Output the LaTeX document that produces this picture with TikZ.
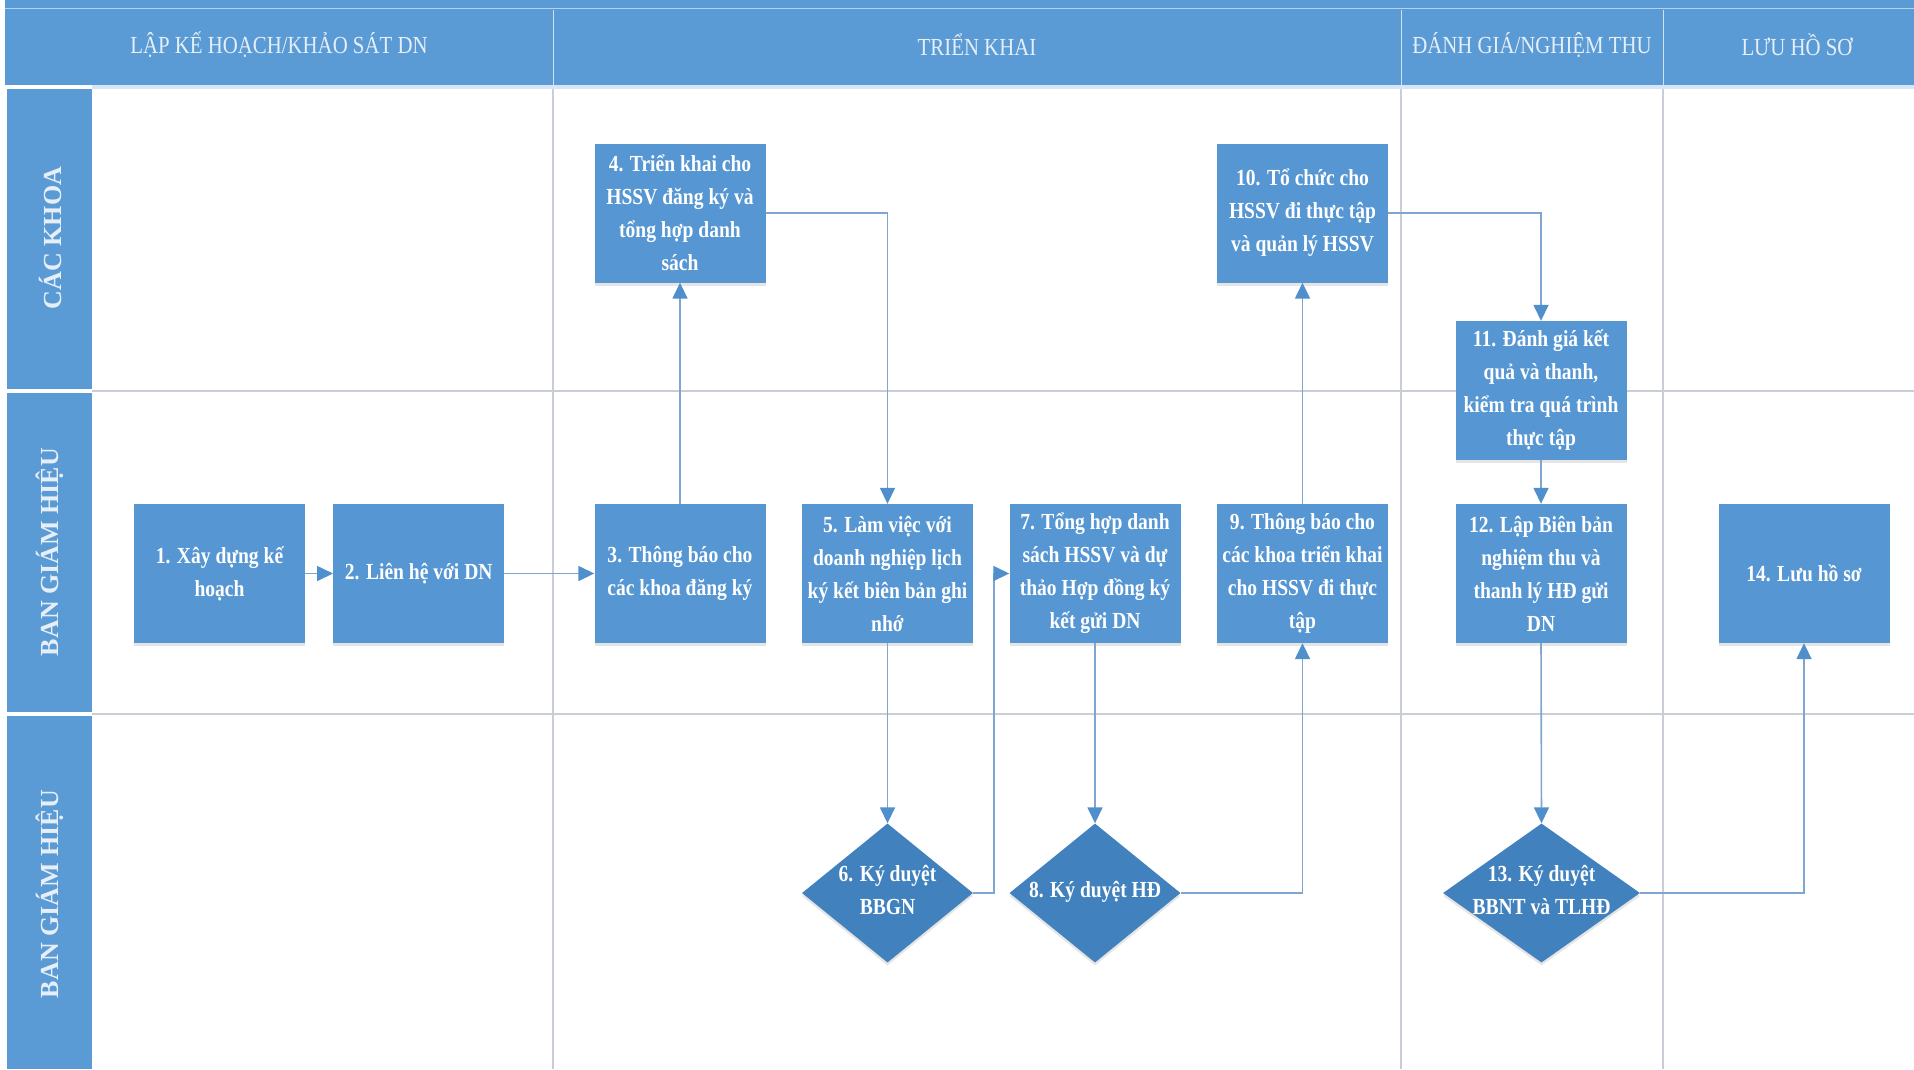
\documentclass[tikz,border=0pt]{standalone}
\usepackage{fontspec}
\setmainfont{Liberation Serif}
\newfontfamily\cnd[FakeStretch=0.85]{Liberation Serif}
\usetikzlibrary{arrows.meta,shapes.geometric,shadows}
\definecolor{hdr}{HTML}{5B9BD5}
\definecolor{boxc}{HTML}{5696D2}
\definecolor{dia}{HTML}{4182BE}
\definecolor{conn}{HTML}{7FA6D0}
\definecolor{tipc}{HTML}{4F8FCB}
\definecolor{gridc}{HTML}{C9CED6}
\definecolor{hdrtxt}{HTML}{E6EEF8}
\begin{document}
\begin{tikzpicture}[x=1pt,y=-1pt,
  stepbox/.style={rectangle, fill=boxc, minimum width=171pt, minimum height=139pt,
    inner sep=2pt, align=center, text=white,
    font=\cnd\bfseries\fontsize{23}{33}\selectfont,
    drop shadow={shadow xshift=0pt, shadow yshift=-3pt, opacity=0.2}},
  decbox/.style={diamond, fill=dia, minimum width=171pt, minimum height=139pt,
    inner sep=0pt, text=white, font=\cnd\bfseries\fontsize{23}{33}\selectfont,
    drop shadow={shadow xshift=0pt, shadow yshift=-3pt, opacity=0.2}},
  headtxt/.style={text=hdrtxt, font=\cnd\fontsize{24.5}{28}\selectfont},
  lanetxt/.style={rotate=90, text=hdrtxt, font=\bfseries\fontsize{26}{30}\selectfont},
  conn/.style={draw=conn, line width=1.6pt, -{Triangle[length=16pt,width=15pt,color=tipc]}},
  gridline/.style={draw=gridc, line width=1.2pt}]
\newcommand{\dtext}[1]{\smash{\makebox[0pt]{\raisebox{-0.2em}{\begin{tabular}{@{}c@{}}#1\end{tabular}}}}}
\useasboundingbox (0,0) rectangle (1914,1069);
\fill[white] (0,0) rectangle (1914,1069);
% header band
\fill[hdr] (5,0) rectangle (1914,85);
\draw[draw=white!55!hdr, line width=1.2pt] (5,8.5) -- (1914,8.5);
\fill[hdr!25] (92,85) rectangle (1914,89);
% lane label column
\fill[hdr] (7,89) rectangle (92,389);
\fill[hdr] (7,393) rectangle (92,712);
\fill[hdr] (7,716) rectangle (92,1069);
% grid lines
\draw[gridline] (92,391) -- (1914,391);
\draw[gridline] (92,714) -- (1914,714);
\foreach \xx in {553,1401,1663} {
  \draw[gridline] (\xx,89) -- (\xx,1069);
  \draw[draw=white!70!hdr, line width=1pt] (\xx,9.5) -- (\xx,85);
}
% header texts
\node[headtxt] (h1) at (279,45) {LẬP KẾ HOẠCH/KHẢO SÁT DN};
\node[headtxt] (h2) at (977,45) {TRIỂN KHAI};
\node[headtxt] (h3) at (1532,45) {ĐÁNH GIÁ/NGHIỆM THU};
\node[headtxt] (h4) at (1797,45) {LƯU HỒ SƠ};
% lane texts
\node[lanetxt] (l1) at (50,238) {CÁC KHOA};
\node[lanetxt] (l2) at (50,552) {BAN GIÁM HIỆU};
\node[lanetxt] (l3) at (50,894) {BAN GIÁM HIỆU};
% process boxes
\node[stepbox] (b1) at (219.5,573.5) {1. Xây dựng kế\\hoạch};
\node[stepbox] (b2) at (418.7,573.5) {2. Liên hệ với DN};
\node[stepbox] (b3) at (680,573.5) {3. Thông báo cho\\các khoa đăng ký};
\node[stepbox] (b4) at (680,213) {4. Triển khai cho\\HSSV đăng ký và\\tổng hợp danh\\sách};
\node[stepbox] (b5) at (887.5,573.5) {5. Làm việc với\\doanh nghiệp lịch\\ký kết biên bản ghi\\nhớ};
\node[stepbox] (b7) at (1095,573.5) {7. Tổng hợp danh\\sách HSSV và dự\\thảo Hợp đồng ký\\kết gửi DN};
\node[stepbox] (b9) at (1302.5,573.5) {9. Thông báo cho\\các khoa triển khai\\cho HSSV đi thực\\tập};
\node[stepbox] (b10) at (1302.5,213) {10. Tổ chức cho\\HSSV đi thực tập\\và quản lý HSSV};
\node[stepbox] (b11) at (1541,390.5) {11. Đánh giá kết\\quả và thanh,\\kiểm tra quá trình\\thực tập};
\node[stepbox] (b12) at (1541,573.5) {12. Lập Biên bản\\nghiệm thu và\\thanh lý HĐ gửi\\DN};
\node[stepbox] (b14) at (1804,573.5) {14. Lưu hồ sơ};
% decisions
\node[decbox] (d6) at (887.5,893) {\dtext{6. Ký duyệt\\BBGN}};
\node[decbox] (d8) at (1095,893) {\dtext{8. Ký duyệt HĐ}};
\node[decbox, minimum width=197pt] (d13) at (1541.5,893) {\dtext{13. Ký duyệt\\BBNT và TLHĐ}};
% connectors
\draw[conn] (b1.east) -- (b2.west);
\draw[conn] (b2.east) -- (b3.west);
\draw[conn] (b3.north) -- (b4.south);
\draw[conn] (b4.east) -| (b5.north);
\draw[conn] (b5.south) -- (d6.north);
\draw[conn] (d6.east) -- ++(21,0) |- (b7.west);
\draw[conn] (b7.south) -- (d8.north);
\draw[conn] (d8.east) -| (b9.south);
\draw[conn] (b9.north) -- (b10.south);
\draw[conn] (b10.east) -| (b11.north);
\draw[conn] (b11.south) -- (b12.north);
\draw[conn] (b12.south) -- (d13.north);
\draw[conn] (d13.east) -| (b14.south);
\end{tikzpicture}
\end{document}
